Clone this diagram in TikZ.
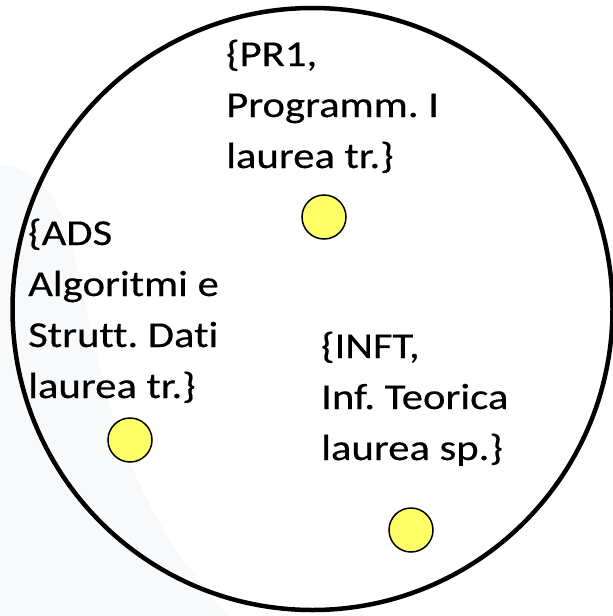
\documentclass[tikz,border=0pt]{standalone}
\usepackage{fontspec}
\setmainfont[Ligatures=NoCommon,FakeStretch=1.17,FakeBold=0.4]{Carlito}
\usetikzlibrary{shapes.geometric}
\definecolor{dotyellow}{RGB}{255,255,102}
\definecolor{swoosh}{RGB}{248,249,250}
\begin{document}
\frenchspacing
\begin{tikzpicture}[x=1pt,y=-1pt,
  dot/.style={circle,draw=black,line width=1.5pt,fill=dotyellow,minimum size=44pt,inner sep=0pt},
  lbl/.style={anchor=base west,inner sep=0pt,font=\fontsize{36.5}{51}\selectfont}]
\useasboundingbox (0,0) rectangle (613,616);
\fill[swoosh] (0,165) .. controls (120,175) and (40,420) .. (230,616) -- (0,616) -- cycle;
\node[draw=black,line width=4.5pt,ellipse,minimum width=600pt,minimum height=602pt,inner sep=0pt] (set) at (312.5,309) {};
\node[dot] (pr1) at (324,217) {};
\node[dot] (ads) at (130,440) {};
\node[dot] (inft) at (411,530) {};
\node[lbl] (pr1txt) at (226,66) {\vtop{\frenchspacing\baselineskip=51pt\hbox{\{PR1,}\hbox{Programm. I}\hbox{laurea tr.\}}}};
\node[lbl] (adstxt) at (28,245) {\vtop{\frenchspacing\baselineskip=51pt\hbox{\{ADS}\hbox{Algoritmi e}\hbox{Strutt. Dati}\hbox{laurea tr.\}}}};
\node[lbl] (infttxt) at (321,358) {\vtop{\frenchspacing\baselineskip=51pt\hbox{\{INFT,}\hbox{Inf. Teorica}\hbox{laurea sp.\}}}};
\end{tikzpicture}
\end{document}
